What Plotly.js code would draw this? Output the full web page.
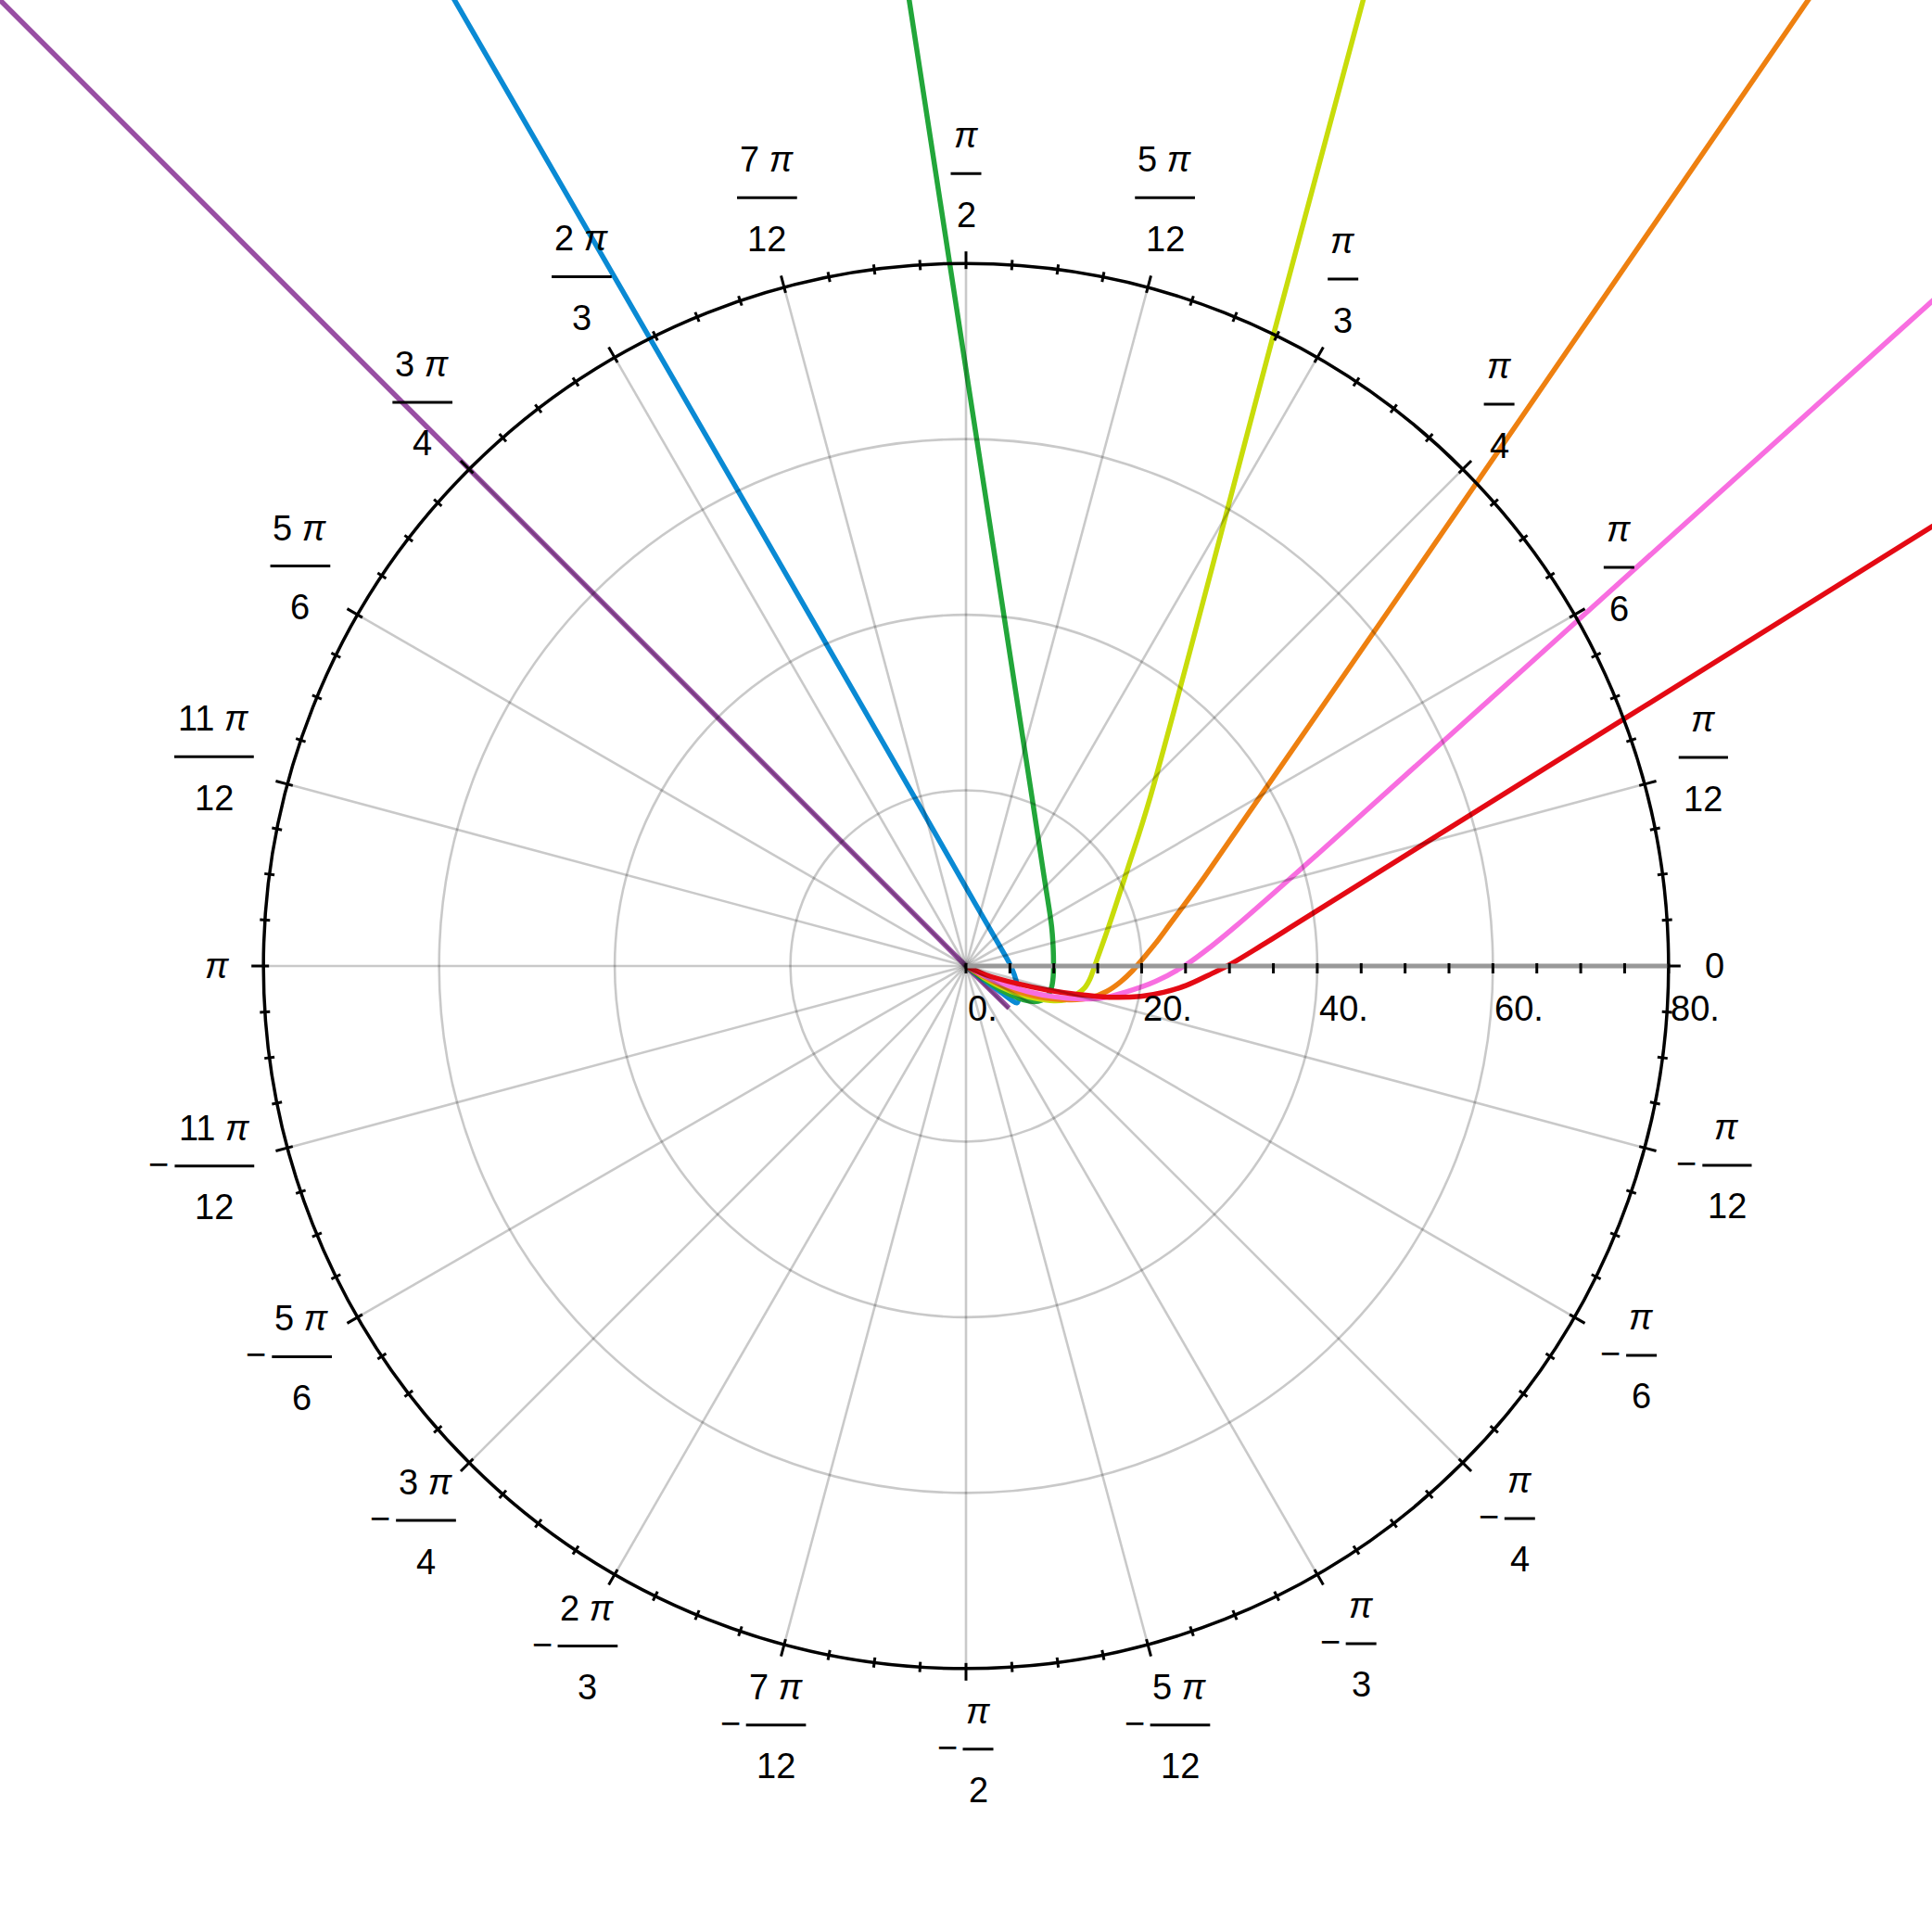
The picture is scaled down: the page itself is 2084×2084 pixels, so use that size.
<!DOCTYPE html>
<html>
<head>
<meta charset="utf-8">
<script src="https://cdn.plot.ly/plotly-3.0.1.min.js"></script>
<style>body{margin:0;background:#fff}#plot{width:2084px;height:2084px}</style>
</head>
<body>
<div id="plot"></div>
<script>
/* curve points, in chart units (x = r cos t, y = r sin t) */
const purpleX=[-112,0,4.9];
const purpleY=[112,0,-4.8];
const blueX=[0,2,4,5.2,5.8,6.0,5.85,5.5,4.95,4.0,1.0,-5.5,-36.3,-62];
const blueY=[0,-1.6,-3.0,-3.9,-4.2,-3.6,-2.3,-1.0,0.3,2.0,7.2,18.6,72.0,116.5];
const greenX=[0,2,4,6,7.6,8.6,9.35,9.75,9.93,9.97,9.93,9.75,8.95,7.5,0.85,-6.7];
const greenY=[0,-1.45,-2.75,-3.65,-4.05,-3.9,-3.3,-2.4,-1.2,0,2,4.5,9.8,19.3,62.4,111.5];
const yellowX=[0,2,4,6,8,10,11.3,12.5,13.5,14.1,14.65,16.25,18.45,21.0,35.1,46.3];
const yellowY=[0,-1.3,-2.4,-3.2,-3.7,-3.95,-3.85,-3.3,-2.5,-1.5,0,4.5,11.2,19.3,72.2,114];
const orangeX=[0,2,4,6,8,10,12,14.2,16.0,17.6,19.0,20.2,21.6,23.2,27.2,58.4,97];
const orangeY=[0,-1.2,-2.2,-2.95,-3.45,-3.75,-3.85,-3.6,-2.9,-1.8,-0.5,0.9,2.6,4.75,10.2,55.4,111.6];
const pinkX=[0,2,4,7,10,13,15.5,18.1,21.6,25.0,28.0,30.8,40,69.6,112];
const pinkY=[0,-1.05,-1.95,-2.9,-3.5,-3.75,-3.65,-3.0,-1.75,0.1,2.3,4.6,12.7,39.3,77.5];
const redX=[0,2.25,5.8,9.3,12.8,16.3,19.9,22.5,25.1,27.6,30.1,33.6,38.7,75.2,113];
const redY=[0,-1.0,-2.0,-2.75,-3.25,-3.55,-3.45,-3.0,-2.2,-1.05,0.2,2.3,5.5,28.3,51.9];

/* axis ticks */
const radialTicks=[0,20,40,60,80];
const radialLabels=['0.','20.','40.','60.','80.'];
const angleSteps=[-11,-10,-9,-8,-7,-6,-5,-4,-3,-2,-1,0,1,2,3,4,5,6,7,8,9,10,11,12]; // times pi/12
const angleLabels=['−11 π/12','−5 π/6','−3 π/4','−2 π/3','−7 π/12','−π/2','−5 π/12','−π/3','−π/4','−π/6','−π/12','0',
                   'π/12','π/6','π/4','π/3','5 π/12','π/2','7 π/12','2 π/3','3 π/4','5 π/6','11 π/12','π'];

const rMax=80;
const S=2084/220;          // px per unit
const fs=38;
const font={family:'Liberation Sans, Arial, sans-serif',size:fs,color:'#000'};
const gray='rgba(0,0,0,0.21)';

function tw(s){
    let w=0;
    for(const ch of s){
        if(ch===' ') w+=10.6;
        else if(ch==='π') w+=22;
        else w+=21.1;
    }
    return w;
}
function fmt(s){ return s.replace(/π/g,'<i>π</i>'); }

const series=[
    {x:purpleX,y:purpleY,c:'#984EA3'},
    {x:blueX,y:blueY,c:'#0A8AD4'},
    {x:greenX,y:greenY,c:'#22A63A'},
    {x:yellowX,y:yellowY,c:'#C8DC0A'},
    {x:orangeX,y:orangeY,c:'#EE8010'},
    {x:pinkX,y:pinkY,c:'#F86EE0'},
    {x:redX,y:redY,c:'#E40A14'}
];
const data=series.map(s=>({
    x:s.x,y:s.y,type:'scatter',mode:'lines',
    line:{color:s.c,width:5.5,shape:'spline',smoothing:1},
    hoverinfo:'skip'
}));

const shapes=[];
const ann=[];

/* grid circles */
[20,40,60].forEach(r=>{
    shapes.push({type:'circle',xref:'x',yref:'y',x0:-r,y0:-r,x1:r,y1:r,layer:'above',
        line:{color:gray,width:2.6}});
});
/* spokes */
for(let k=1;k<24;k++){
    const t=k*Math.PI/12;
    shapes.push({type:'line',xref:'x',yref:'y',x0:0,y0:0,x1:rMax*Math.cos(t),y1:rMax*Math.sin(t),
        layer:'above',line:{color:gray,width:2.6}});
}
/* outer circle */
shapes.push({type:'circle',xref:'x',yref:'y',x0:-rMax,y0:-rMax,x1:rMax,y1:rMax,layer:'above',
    line:{color:'#000',width:3.5}});
/* circle ticks */
for(let j=0;j<96;j++){
    const t=j*Math.PI/48;
    const major=(j%4===0);
    const a=rMax-(major?6:5.5)/S, b=rMax+(major?13:5.5)/S;
    shapes.push({type:'line',xref:'x',yref:'y',
        x0:a*Math.cos(t),y0:a*Math.sin(t),x1:b*Math.cos(t),y1:b*Math.sin(t),
        layer:'above',line:{color:'#000',width:3}});
}
/* radial axis */
shapes.push({type:'line',xref:'x',yref:'y',x0:0,y0:0,x1:rMax,y1:0,layer:'above',
    line:{color:'#999',width:5}});
for(let v=0;v<=rMax;v+=5){
    shapes.push({type:'line',xref:'x',yref:'y',x0:v,y0:3/S,x1:v,y1:-8/S,layer:'above',
        line:{color:'#000',width:3}});
}
radialTicks.forEach((v,i)=>{
    ann.push({x:v,y:-23/S,xref:'x',yref:'y',text:radialLabels[i],showarrow:false,
        xanchor:'left',yanchor:'top',font:font});
});

/* angular labels: box pushed out from the circle along each axis */
const R=rMax*S, gap=39, lift=5;
angleSteps.forEach((k,i)=>{
    const t=k*Math.PI/12, c=Math.cos(t), s=Math.sin(t);
    const lab=angleLabels[i];
    const neg=lab[0]==='−';
    const body=neg?lab.slice(1):lab;
    if(body.indexOf('/')<0){
        const w=tw(body), h=(body==='π')?22:28;
        const cx=(R+gap)*c+c*w/2, cy=(R+gap)*s+s*h/2;
        ann.push({x:cx/S,y:cy/S,xref:'x',yref:'y',text:fmt(body),showarrow:false,
            xanchor:'center',yanchor:'middle',font:font});
        return;
    }
    const [num,den]=body.split('/');
    const bar=Math.max(tw(num),tw(den))+11;
    const W=bar+(neg?26:0), H=(num==='π')?106:112;
    const bx=(R+gap)*c+c*W/2+(neg?13:0), by=(R+gap)*s+s*H/2+lift;
    ann.push({x:bx/S,y:(by+41)/S,xref:'x',yref:'y',text:fmt(num),showarrow:false,
        xanchor:'center',yanchor:'middle',font:font});
    ann.push({x:bx/S,y:(by-44.5)/S,xref:'x',yref:'y',text:fmt(den),showarrow:false,
        xanchor:'center',yanchor:'middle',font:font});
    shapes.push({type:'line',xref:'x',yref:'y',x0:(bx-bar/2)/S,y0:by/S,x1:(bx+bar/2)/S,y1:by/S,
        layer:'above',line:{color:'#000',width:3}});
    if(neg){
        ann.push({x:(bx-bar/2-17)/S,y:(by+2)/S,xref:'x',yref:'y',text:'−',showarrow:false,
            xanchor:'center',yanchor:'middle',font:font});
    }
});

const layout={
    width:2084,height:2084,
    margin:{l:0,r:0,t:0,b:0,pad:0},
    paper_bgcolor:'#fff',plot_bgcolor:'#fff',
    showlegend:false,hovermode:false,
    xaxis:{range:[-110,110],visible:false,fixedrange:true},
    yaxis:{range:[-110,110],visible:false,fixedrange:true},
    shapes:shapes,
    annotations:ann
};

Plotly.newPlot('plot',data,layout,{staticPlot:true});
</script>
</body>
</html>
